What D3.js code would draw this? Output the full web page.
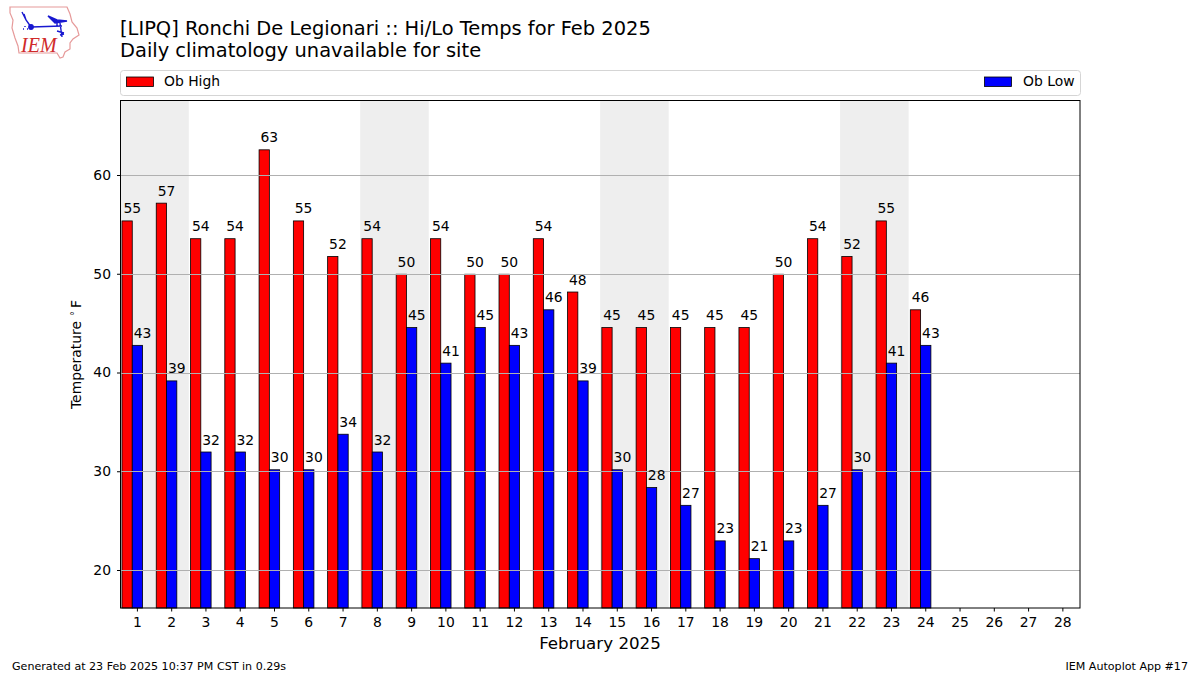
<!DOCTYPE html>
<html><head><meta charset="utf-8">
<script src="https://cdn.jsdelivr.net/npm/d3@7"></script>
<style>html,body{margin:0;padding:0;background:#fff}svg{display:block}text{font-family:"DejaVu Sans";fill:#000}</style>
</head><body><svg id="c" width="1200" height="675"></svg>
<script>
const days = d3.range(1, 29);
const obHigh = [55.4,57.2,53.6,53.6,62.6,55.4,51.8,53.6,50,53.6,50,50,53.6,48.2,44.6,44.6,44.6,44.6,44.6,50,53.6,51.8,55.4,46.4];
const obLow = [42.8,39.2,32,32,30.2,30.2,33.8,32,44.6,41,44.6,42.8,46.4,39.2,30.2,28.4,26.6,23,21.2,23,26.6,30.2,41,42.8];
const highLabels = [55,57,54,54,63,55,52,54,50,54,50,50,54,48,45,45,45,45,45,50,54,52,55,46];
const lowLabels = [43,39,32,32,30,30,34,32,45,41,45,43,46,39,30,28,27,23,21,23,27,30,41,43];
const weekendStarts = [0.5,7.5,14.5,21.5];
const yTicks = [20,30,40,50,60];
const titleLines = ["[LIPQ] Ronchi De Legionari :: Hi/Lo Temps for Feb 2025","Daily climatology unavailable for site"];

const L=120.5,R=1080,T=100.5,B=608;
const svg=d3.select("#c");
const x=d3.scaleLinear().domain([0.507,28.5]).range([L,R]);
const y=d3.scaleLinear().domain([16.203,67.595]).range([B,T]);
const w=x(0.3)-x(0);

// logo
const logo=svg.append("g");
logo.append("path").attr("d","M10 7L67 7L70 14L72 22L77 28L79 35L73 39L70 43L70 49L65 52L63 57L60 58L57 53L19 53L18 46L15 38L12 28L13 20L10 13Z")
  .attr("fill","none").attr("stroke","#e69a9a").attr("stroke-width",1.2);
logo.append("g").attr("stroke","#1818d0").attr("stroke-width",1.4).attr("fill","none").call(g=>{
  g.append("path").attr("d","M31 27L62 26M57 22L57 27M60 23L62 37M57 31L64 33M60 35L64 34M31 27L26 20L22 12M26 20L24 14");
  g.append("path").attr("d","M48 16L57 20L67 21L55 23Z").attr("fill","#1818d0");
  g.append("circle").attr("cx",31).attr("cy",27).attr("r",2.2).attr("fill","#1818d0");
  g.append("path").attr("d","M23 29L24 29M27 29L28 29M25 26L25 27");
});
logo.append("text").attr("x",21).attr("y",51.5).text("IEM").style("font-family","Liberation Serif").style("font-style","italic").style("font-size","20px").style("fill","#d02a2a");

// titles
svg.selectAll(".title").data(titleLines).join("text").attr("class","title")
  .attr("x",120).attr("y",(d,i)=>35+i*22).style("font-size","19.45px").text(d=>d);

// weekend bands
svg.append("g").selectAll("rect").data(weekendStarts).join("rect")
  .attr("x",d=>x(Math.max(d,0.507))).attr("y",T).attr("height",B-T)
  .attr("width",d=>x(d+2)-x(Math.max(d,0.507))).attr("fill","#eeeeee");

// bars
const bars=svg.append("g").attr("stroke","#000").attr("stroke-width",0.8);
bars.selectAll(".hi").data(obHigh).join("rect").attr("class","hi").attr("fill","#ff0000")
  .attr("x",(d,i)=>x(days[i]-0.45)).attr("width",w).attr("y",d=>y(d)).attr("height",d=>B-y(d));
bars.selectAll(".lo").data(obLow).join("rect").attr("class","lo").attr("fill","#0000ff")
  .attr("x",(d,i)=>x(days[i]-0.15)).attr("width",w).attr("y",d=>y(d)).attr("height",d=>B-y(d));

// grid
svg.append("g").selectAll("line").data(yTicks).join("line")
  .attr("x1",L).attr("x2",R).attr("y1",d=>Math.floor(y(d))+0.5).attr("y2",d=>Math.floor(y(d))+0.5)
  .attr("stroke","#b0b0b0").attr("stroke-width",1);

// value labels
const lab=svg.append("g").style("font-size","13.9px").attr("text-anchor","middle");
lab.selectAll(".hl").data(obHigh).join("text").attr("class","hl")
  .attr("x",(d,i)=>x(days[i]-0.15)).attr("y",d=>y(d)-7.5).text((d,i)=>highLabels[i]);
lab.selectAll(".ll").data(obLow).join("text").attr("class","ll")
  .attr("x",(d,i)=>x(days[i]+0.15)).attr("y",d=>y(d)-7.5).text((d,i)=>lowLabels[i]);

// axes
const ax=svg.append("g").attr("transform",`translate(0,${B})`).call(d3.axisBottom(x).offset(0).tickValues(days).tickSize(3.5).tickPadding(6).tickFormat(d3.format("d")));
const ay=svg.append("g").attr("transform",`translate(${L},0)`).call(d3.axisLeft(y).offset(0).tickValues(yTicks).tickSize(3.5).tickPadding(6).tickFormat(d3.format("d")));
[ax,ay].forEach(a=>{a.select(".domain").remove();a.selectAll("text").style("font-size","13.9px").style("font-family","DejaVu Sans");a.selectAll("line").attr("stroke","#000").attr("stroke-width",1)});
svg.append("rect").attr("x",L).attr("y",T).attr("width",R-L).attr("height",B-T).attr("fill","none").attr("stroke","#000").attr("stroke-width",1);

// axis titles
svg.append("text").attr("x",600).attr("y",649).attr("text-anchor","middle").style("font-size","16.7px").text("February 2025");
const yl=svg.append("text").attr("transform","translate(81,354.5) rotate(-90)").attr("text-anchor","middle").style("font-size","13.9px");
yl.append("tspan").text("Temperature");
yl.append("tspan").attr("dx",5).style("font-size","10px").attr("dy",-3).text("°");
yl.append("tspan").attr("dx",3).attr("dy",3).text("F");

// legend
svg.append("rect").attr("x",120.5).attr("y",70.5).attr("width",960).attr("height",25).attr("rx",3).attr("fill","#fff").attr("stroke","#d5d5d5");
svg.append("rect").attr("x",126.5).attr("y",77).attr("width",27).attr("height",9.5).attr("fill","#f00").attr("stroke","#000").attr("stroke-width",0.8);
svg.append("text").attr("x",164).attr("y",86).style("font-size","13.9px").text("Ob High");
svg.append("rect").attr("x",984.5).attr("y",77).attr("width",27).attr("height",9.5).attr("fill","#00f").attr("stroke","#000").attr("stroke-width",0.8);
svg.append("text").attr("x",1023).attr("y",86).style("font-size","13.9px").text("Ob Low");

// footer
svg.append("text").attr("x",12).attr("y",670).style("font-size","11.1px").text("Generated at 23 Feb 2025 10:37 PM CST in 0.29s");
svg.append("text").attr("x",1188).attr("y",670).attr("text-anchor","end").style("font-size","11.1px").text("IEM Autoplot App #17");
</script></body></html>
